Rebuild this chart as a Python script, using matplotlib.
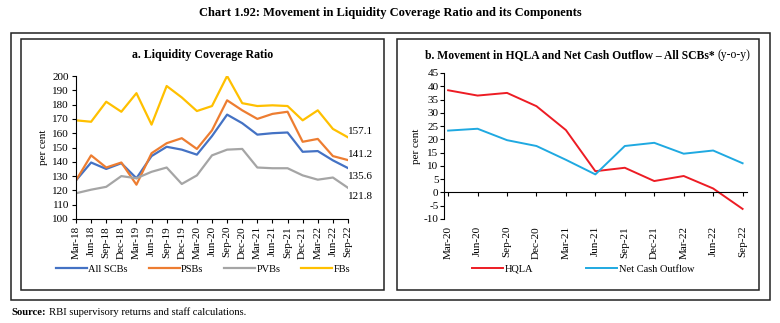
import matplotlib.pyplot as plt
from matplotlib.patches import Rectangle

plt.rcParams['font.family'] = ['Liberation Serif', 'DejaVu Serif']
plt.rcParams['axes.unicode_minus'] = False

# panel a : liquidity coverage ratio (per cent)
quarters_a = ['Mar-18', 'Jun-18', 'Sep-18', 'Dec-18', 'Mar-19', 'Jun-19', 'Sep-19', 'Dec-19',
              'Mar-20', 'Jun-20', 'Sep-20', 'Dec-20', 'Mar-21', 'Jun-21', 'Sep-21', 'Dec-21',
              'Mar-22', 'Jun-22', 'Sep-22']
all_scbs = [127, 139.5, 135, 139, 128.5, 144, 150.5, 148.5, 145, 158, 173, 167, 159, 160, 160.5,
            147, 147.5, 141, 135.6]
psbs = [127, 144.5, 136, 139.5, 124, 146, 153, 156.5, 149, 162, 183, 176, 170, 173.5, 175,
        154, 156, 144, 141.2]
pvbs = [118, 120.5, 122.5, 130, 128.5, 133, 136, 124.5, 130.5, 144.5, 148.5, 149, 136, 135.5,
        135.5, 130.5, 127.5, 129, 121.8]
fbs = [169, 168, 182, 175, 188, 166, 193, 185, 175.5, 179, 200, 181, 179, 179.5, 179, 169, 176,
       163, 157.1]

# panel b : y-o-y growth (per cent)
quarters_b = ['Mar-20', 'Jun-20', 'Sep-20', 'Dec-20', 'Mar-21', 'Jun-21', 'Sep-21', 'Dec-21',
              'Mar-22', 'Jun-22', 'Sep-22']
hqla = [38.5, 36.5, 37.5, 32.5, 23.5, 8, 9.3, 4.3, 6.2, 1.5, -6.2]
net_cash_outflow = [23.3, 24, 19.7, 17.5, 12.3, 6.8, 17.5, 18.7, 14.6, 15.8, 11]

W, H = 780, 323
fig = plt.figure(figsize=(W / 100, H / 100), dpi=100)


def fx(px):
    return px / W


def fy(py):
    return 1 - py / H


def box(x0, y0, x1, y1):
    fig.add_artist(Rectangle((fx(x0), fy(y1)), fx(x1) - fx(x0), fy(y0) - fy(y1),
                             transform=fig.transFigure, fill=False, lw=1.1, ec='#222222'))


box(11, 33, 770, 300)
box(21, 39, 384, 290)
box(397, 39, 759, 290)

fig.text(0.5, fy(13), 'Chart 1.92: Movement in Liquidity Coverage Ratio and its Components',
         ha='center', va='center', fontsize=9, fontweight='bold')
src = fig.text(fx(11), fy(315), 'Source:', ha='left', va='baseline', fontsize=7.7,
               fontweight='bold')
fig.canvas.draw()
sb = src.get_window_extent(fig.canvas.get_renderer())
fig.text(sb.x1 / W + 0.004, fy(315), 'RBI supervisory returns and staff calculations.',
         ha='left', va='baseline', fontsize=7.7)

# ---- panel a
ax1 = fig.add_axes([fx(76), fy(219), fx(348) - fx(76), fy(76) - fy(219)])
x_a = range(len(quarters_a))
ax1.plot(x_a, all_scbs, color='#4472C4', lw=1.6, label='All SCBs')
ax1.plot(x_a, psbs, color='#ED7D31', lw=1.6, label='PSBs')
ax1.plot(x_a, pvbs, color='#A5A5A5', lw=1.6, label='PVBs')
ax1.plot(x_a, fbs, color='#FFC000', lw=1.6, label='FBs')
ax1.set_xlim(0, len(quarters_a) - 1)
ax1.set_ylim(100, 200)
ax1.set_yticks(range(100, 201, 10))
ax1.set_xticks(list(x_a))
ax1.set_xticklabels(quarters_a, rotation=90)
ax1.tick_params(labelsize=8, length=3, width=0.8, pad=2)
for s in ['top', 'right']:
    ax1.spines[s].set_visible(False)
ax1.set_ylabel('per cent', fontsize=8, labelpad=3)
for vals, off in [(fbs, 4), (psbs, 4), (all_scbs, -6), (pvbs, -6)]:
    ax1.annotate(f'{vals[-1]:.1f}', (len(vals) - 1, vals[-1]), xytext=(0, off),
                 textcoords='offset points', fontsize=8, ha='left', va='center')
ax1.legend(loc='center', bbox_to_anchor=(fx(203), fy(269)), bbox_transform=fig.transFigure,
           ncol=4, frameon=False, fontsize=7.5, handlelength=3.0, columnspacing=2.0,
           handletextpad=0.1)
fig.text(fx(203), fy(55), 'a. Liquidity Coverage Ratio', ha='center', va='center',
         fontsize=8.6, fontweight='bold')

# ---- panel b
ax2 = fig.add_axes([fx(444), fy(219), fx(747) - fx(444), fy(73) - fy(219)])
x_b = range(len(quarters_b))
ax2.plot(x_b, hqla, color='#ED1C24', lw=1.4, label='HQLA')
ax2.plot(x_b, net_cash_outflow, color='#1FA9E1', lw=1.4, label='Net Cash Outflow')
ax2.set_xlim(-0.14, len(quarters_b) - 1 + 0.15)
ax2.set_ylim(-10, 45)
ax2.set_yticks(range(-10, 46, 5))
for s in ['top', 'right']:
    ax2.spines[s].set_visible(False)
ax2.spines['bottom'].set_position(('data', 0))
ax2.set_xticks(list(x_b))
ax2.tick_params(axis='x', labelbottom=False, length=3, width=0.8)
ax2.tick_params(axis='y', labelsize=8, length=3, width=0.8, pad=1)
sec = ax2.secondary_xaxis(0.0)
sec.set_xticks(list(x_b))
sec.set_xticklabels(quarters_b, rotation=90)
sec.tick_params(length=0, labelsize=8, pad=5)
sec.spines['bottom'].set_visible(False)
ax2.set_ylabel('per cent', fontsize=8, labelpad=2)
ax2.legend(loc='center', bbox_to_anchor=(fx(583), fy(269)), bbox_transform=fig.transFigure,
           ncol=2, frameon=False, fontsize=7.5, handlelength=3.0, columnspacing=5.0,
           handletextpad=0.2)

t = fig.text(fx(425), fy(55), 'b. Movement in HQLA and Net Cash Outflow \u2013 All SCBs*',
             ha='left', va='center', fontsize=8.4, fontweight='bold')
fig.canvas.draw()
bb = t.get_window_extent(fig.canvas.get_renderer())
fig.text(bb.x1 / W + 0.004, fy(55), '(y-o-y)', ha='left', va='center', fontsize=8.4)

fig.savefig('out.png', dpi=100)
